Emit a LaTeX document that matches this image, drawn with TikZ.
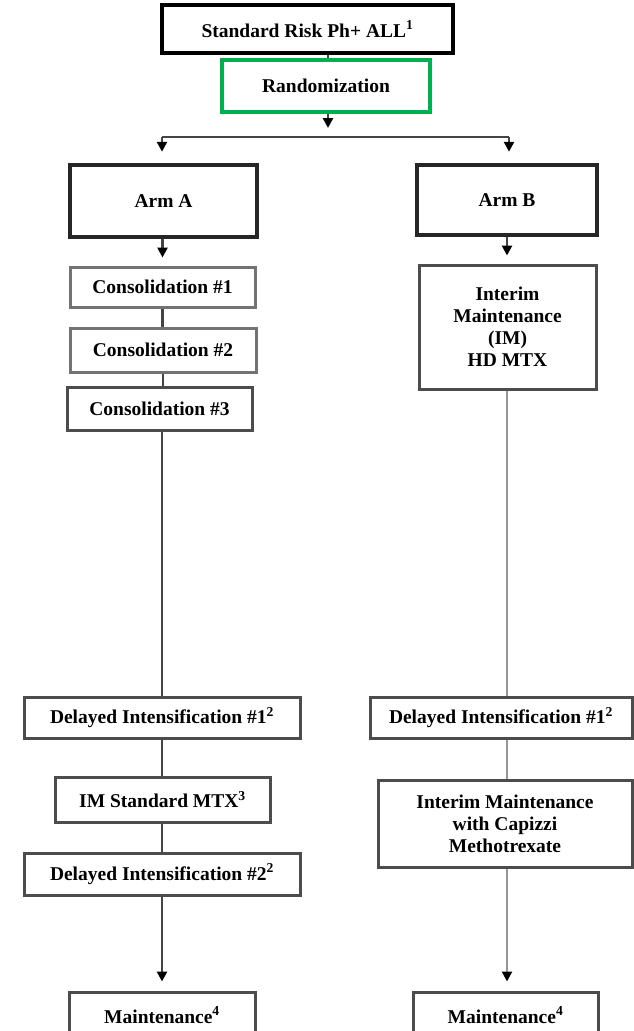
\documentclass[tikz,border=0pt]{standalone}
\usepackage{fontspec}
\setmainfont{Liberation Serif}
\usetikzlibrary{arrows.meta}
\definecolor{randgreen}{RGB}{0,176,80}
\definecolor{lineA}{RGB}{68,68,68}
\definecolor{lineB}{RGB}{150,150,150}
\begin{document}
\begin{tikzpicture}[x=1pt,y=-1pt,
  box/.style={draw=#1,line width=3pt,fill=white,align=center,inner sep=2pt,
    font=\fontsize{19.5}{22}\selectfont\bfseries},
  box/.default={black!70},
  heavy/.style={box,draw=black!85,line width=4.5pt},
  conn/.style={draw=lineA,line width=2.5pt},
  connB/.style={draw=lineB,line width=2.5pt},
  tip/.style={-{Triangle[width=10pt,length=10pt,color=black]},line width=2.5pt}]
\useasboundingbox (0,0) rectangle (634,1031);
\clip (0,0) rectangle (634,1031);

% trunk
\node[heavy,draw=black,minimum width=291pt,minimum height=48pt] (top) at (307.5,29) {Standard Risk Ph+ ALL\textsuperscript{1}};
\node[box=randgreen,line width=4pt,minimum width=208pt,minimum height=52pt] (rand) at (326,86) {Randomization};

% arm A
\node[heavy,minimum width=187pt,minimum height=72pt] (armA) at (163.5,201) {Arm A};
\node[box=black!55,minimum width=185pt,minimum height=40pt] (con1) at (162.5,287) {Consolidation \#1};
\node[box=black!55,minimum width=186pt,minimum height=44pt] (con2) at (163,350) {Consolidation \#2};
\node[box,minimum width=185pt,minimum height=43pt] (con3) at (159.5,408.5) {Consolidation \#3};
\node[box,minimum width=276pt,minimum height=41pt] (di1A) at (162,717.5) {Delayed Intensification \#1\textsuperscript{2}};
\node[box,minimum width=215pt,minimum height=45pt] (imstd) at (162.5,799.5) {IM Standard MTX\textsuperscript{3}};
\node[box,minimum width=276pt,minimum height=42pt] (di2A) at (162,874) {Delayed Intensification \#2\textsuperscript{2}};
\node[box,minimum width=186pt,minimum height=46pt] (maintA) at (162,1015) {Maintenance\textsuperscript{4}};

% arm B
\node[heavy,minimum width=180pt,minimum height=70pt] (armB) at (507,200) {Arm B};
\node[box,minimum width=177pt,minimum height=124pt] (imB) at (507.5,327) {Interim\\Maintenance\\(IM)\\HD MTX};
\node[box,minimum width=262pt,minimum height=41pt] (di1B) at (501,717.5) {Delayed Intensification \#1\textsuperscript{2}};
\node[box,minimum width=254pt,minimum height=87pt] (imcap) at (505,823.5) {Interim Maintenance\\with Capizzi\\Methotrexate};
\node[box,minimum width=185pt,minimum height=46pt] (maintB) at (505.5,1015) {Maintenance\textsuperscript{4}};

% split points
\coordinate (randTip) at (328,128);
\coordinate (splitL) at (162,137);
\coordinate (splitR) at (509,137);

% trunk connectors
\draw[conn] (top.south -| randTip) -- (rand.north -| randTip);
\draw[conn,tip] (rand.south -| randTip) -- (randTip);
\draw[conn] (splitL) -- (splitR);
\draw[conn,tip,shorten >=11pt] (splitL) -- (splitL |- armA.north);
\draw[conn,tip,shorten >=11pt] (splitR) -- (splitR |- armB.north);

% arm A connectors
\draw[conn,tip,shorten >=8pt] (armA.south -| con1.north) -- (con1.north);
\draw[conn] (con1.south) -- (con2.north -| con1.south);
\draw[conn] (con2.south) -- (con3.north -| con2.south);
\draw[conn] (di1A.north |- con3.south) -- (di1A.north);
\draw[conn] (di1A.south) -- (imstd.north -| di1A.south);
\draw[conn] (imstd.south -| di2A.north) -- (di2A.north);
\draw[conn,tip,shorten >=9pt] (di2A.south) -- (maintA.north -| di2A.south);

% arm B connectors
\draw[conn,tip,shorten >=8pt] (armB.south) -- (imB.north -| armB.south);
\draw[connB] (imB.south -| armB.south) -- (di1B.north -| armB.south);
\draw[connB] (di1B.south -| armB.south) -- (imcap.north -| armB.south);
\draw[connB,tip,shorten >=9pt] (imcap.south -| armB.south) -- (maintB.north -| armB.south);
\end{tikzpicture}
\end{document}
